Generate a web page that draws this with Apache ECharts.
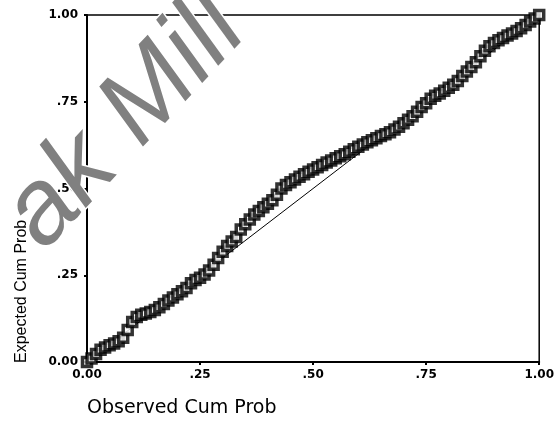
<!DOCTYPE html>
<html>
<head>
<meta charset="utf-8">
<script src="https://cdn.jsdelivr.net/npm/echarts@6/dist/echarts.min.js"></script>
<style>
  html, body { margin: 0; padding: 0; background: #fff; }
  #chart { width: 557px; height: 422px; }
</style>
</head>
<body>
<div id="chart"></div>
<script>
// observed cumulative probability (x) and expected cumulative probability (y)
const observed = [
  0.00, 0.01, 0.02, 0.03, 0.04, 0.05, 0.06, 0.07, 0.08, 0.09,
  0.10, 0.11, 0.12, 0.13, 0.14, 0.15, 0.16, 0.17, 0.18, 0.19,
  0.20, 0.21, 0.22, 0.23, 0.24, 0.25, 0.26, 0.27, 0.28, 0.29,
  0.30, 0.31, 0.32, 0.33, 0.34, 0.35, 0.36, 0.37, 0.38, 0.39,
  0.40, 0.41, 0.42, 0.43, 0.44, 0.45, 0.46, 0.47, 0.48, 0.49,
  0.50, 0.51, 0.52, 0.53, 0.54, 0.55, 0.56, 0.57, 0.58, 0.59,
  0.60, 0.61, 0.62, 0.63, 0.64, 0.65, 0.66, 0.67, 0.68, 0.69,
  0.70, 0.71, 0.72, 0.73, 0.74, 0.75, 0.76, 0.77, 0.78, 0.79,
  0.80, 0.81, 0.82, 0.83, 0.84, 0.85, 0.86, 0.87, 0.88, 0.89,
  0.90, 0.91, 0.92, 0.93, 0.94, 0.95, 0.96, 0.97, 0.98, 0.99,
  1.00
];
const expected = [
  0.000, 0.010, 0.023, 0.035, 0.042, 0.048, 0.053, 0.060, 0.070, 0.092,
  0.115, 0.130, 0.136, 0.140, 0.144, 0.150, 0.158, 0.167, 0.177, 0.186,
  0.195, 0.204, 0.213, 0.227, 0.236, 0.243, 0.252, 0.264, 0.280, 0.300,
  0.318, 0.334, 0.347, 0.360, 0.382, 0.397, 0.411, 0.425, 0.435, 0.446,
  0.456, 0.466, 0.482, 0.500, 0.510, 0.518, 0.526, 0.534, 0.541, 0.548,
  0.555, 0.561, 0.568, 0.575, 0.581, 0.587, 0.593, 0.599, 0.606, 0.613,
  0.620, 0.627, 0.633, 0.639, 0.645, 0.651, 0.656, 0.662, 0.670, 0.678,
  0.688, 0.698, 0.708, 0.721, 0.735, 0.746, 0.759, 0.767, 0.774, 0.782,
  0.790, 0.799, 0.810, 0.824, 0.837, 0.850, 0.864, 0.881, 0.897, 0.910,
  0.919, 0.927, 0.934, 0.941, 0.947, 0.954, 0.962, 0.971, 0.981, 0.990,
  1.000
];
const refLine = [[0, 0], [1, 1]];
const tickLabels = { 0: '0.00', 0.25: '.25', 0.5: '.50', 0.75: '.75', 1: '1.00' };

const chart = echarts.init(document.getElementById('chart'));

const axisCommon = {
  type: 'value',
  min: 0,
  max: 1,
  interval: 0.25,
  splitLine: { show: false },
  axisLine: { show: true, lineStyle: { color: '#000', width: 2 } },
  axisTick: { show: true, length: 3, lineStyle: { color: '#000', width: 2 } },
  axisLabel: {
    color: '#000',
    fontFamily: 'DejaVu Sans',
    fontWeight: 'bold',
    fontSize: 12,
    margin: 7,
    formatter: v => tickLabels[v]
  }
};

chart.setOption({
  animation: false,
  grid: {
    left: 87, right: 16, top: 15, bottom: 60,
    show: true, borderColor: '#000', borderWidth: 1.5
  },
  xAxis: axisCommon,
  yAxis: Object.assign({}, axisCommon, {
    axisLabel: Object.assign({}, axisCommon.axisLabel, { margin: 9 })
  }),
  series: [
    {
      type: 'line',
      data: refLine,
      symbol: 'none',
      lineStyle: { color: '#000', width: 1 },
      z: 1
    },
    {
      type: 'scatter',
      data: observed.map((x, i) => [x, expected[i]]),
      symbol: 'rect',
      symbolSize: 9,
      itemStyle: { color: '#fff', borderColor: '#000', borderWidth: 3.5 },
      z: 2
    }
  ],
  graphic: [
    {
      type: 'text',
      left: 87,
      top: 399,
      style: {
        text: 'Observed Cum Prob',
        fontFamily: 'DejaVu Sans',
        fontSize: 19,
        fill: '#000'
      }
    },
    {
      type: 'text',
      x: 30,
      y: 363,
      rotation: Math.PI / 2,
      style: {
        text: 'Expected Cum Prob',
        fontFamily: 'Liberation Sans',
        fontSize: 16,
        fill: '#000',
        align: 'left',
        verticalAlign: 'bottom'
      }
    },
    {
      // scan watermark
      type: 'text',
      x: -16,
      y: 196,
      rotation: 0.82,
      z: 100,
      style: {
        text: 'ak Mill',
        fontFamily: 'Liberation Sans',
        fontStyle: 'italic',
        fontSize: 106,
        fill: '#808080',
        stroke: '#fff',
        lineWidth: 3,
        align: 'left',
        verticalAlign: 'top'
      }
    }
  ]
});
</script>
</body>
</html>
